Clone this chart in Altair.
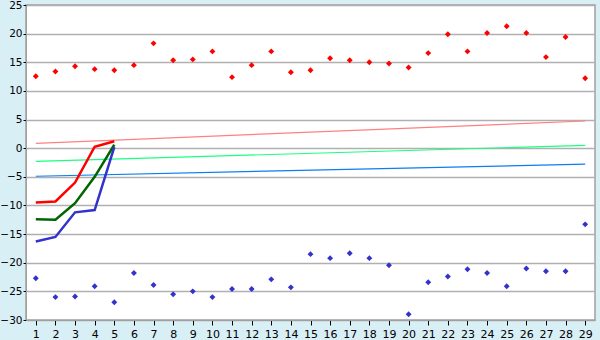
import altair as alt
import pandas as pd

days = list(range(1, 30))
highs = [12.55, 13.4, 14.3, 13.8, 13.6, 14.5, 18.3, 15.35, 15.5, 16.9,
         12.4, 14.5, 16.9, 13.25, 13.6, 15.7, 15.35, 15.0, 14.8, 14.1,
         16.6, 19.9, 16.9, 20.1, 21.3, 20.1, 15.9, 19.4, 12.2]
lows = [-22.7, -26.0, -25.9, -24.1, -26.9, -21.8, -23.9, -25.5, -25.0, -26.0,
        -24.6, -24.6, -22.9, -24.3, -18.5, -19.2, -18.35, -19.2, -20.45, -29.0,
        -23.4, -22.4, -21.15, -21.8, -24.1, -21.0, -21.5, -21.5, -13.3]

cur_x = [1, 2, 3, 4, 5]
cur_max = [-9.5, -9.3, -6.0, 0.25, 1.2]
cur_mean = [-12.4, -12.5, -9.6, -5.0, 0.6]
cur_min = [-16.3, -15.5, -11.2, -10.8, 0.2]

trend_x = [1, 29]
trend_max = [0.85, 4.75]
trend_mean = [-2.3, 0.5]
trend_min = [-4.9, -2.8]

pts = pd.DataFrame(
    {"day": days * 2, "v": highs + lows, "s": ["hi"] * 29 + ["lo"] * 29}
)
cur = pd.DataFrame(
    {"day": cur_x * 3, "v": cur_max + cur_mean + cur_min,
     "s": ["max"] * 5 + ["mean"] * 5 + ["min"] * 5}
)
trend = pd.DataFrame(
    {"day": trend_x * 3, "v": trend_max + trend_mean + trend_min,
     "s": ["tmax"] * 2 + ["tmean"] * 2 + ["tmin"] * 2}
)

xs = alt.X("day:Q", scale=alt.Scale(domain=[0.5, 29.5], nice=False, zero=False),
           axis=alt.Axis(values=days, title=None, grid=False, tickSize=5,
                         labelPadding=3, domainColor="#a0a0a0", tickColor="#000000",
                         labelFontSize=11, labelColor="#000"))
ys = alt.Y("v:Q", scale=alt.Scale(domain=[-30, 25], nice=False),
           axis=alt.Axis(values=list(range(-30, 26, 5)), title=None, grid=True,
                         gridColor="#b0b0b0", gridWidth=1.5, tickSize=3,
                         tickColor="#000000", domainColor="#a0a0a0",
                         labelPadding=1, labelFontSize=10.5, labelColor="#000"))

tr = alt.Chart(trend).mark_line(strokeWidth=1.2).encode(
    x=xs, y=ys, detail="s:N",
    color=alt.Color("s:N", scale=alt.Scale(domain=["tmax", "tmean", "tmin"],
                                            range=["#ff8080", "#1aff80", "#0a7ff0"]),
                    legend=None),
)
cl = alt.Chart(cur).mark_line(strokeWidth=2.5).encode(
    x=xs, y=ys, detail="s:N",
    color=alt.Color("s:N", scale=alt.Scale(domain=["max", "mean", "min"],
                                            range=["#ff0000", "#006600", "#3333cc"]),
                    legend=None),
)
pt = alt.Chart(pts).mark_point(shape="diamond", filled=True, size=35, opacity=1).encode(
    x=xs, y=ys,
    color=alt.Color("s:N", scale=alt.Scale(domain=["hi", "lo"],
                                            range=["#ff0000", "#3333cc"]),
                    legend=None),
)

chart = alt.layer(tr, cl, pt).resolve_scale(color="independent").properties(
    width=569, height=315,
    autosize=alt.AutoSizeParams(type="none"),
    padding={"left": 26, "top": 5, "right": 5, "bottom": 20},
    background="#d9eff6",
).configure_view(
    fill="#ffffff", stroke="#a0a0a0", strokeWidth=1.5
).configure_axis(
    labelFont="DejaVu Sans"
)

chart.save("out.html", embed_options={"renderer": "svg", "actions": False})
